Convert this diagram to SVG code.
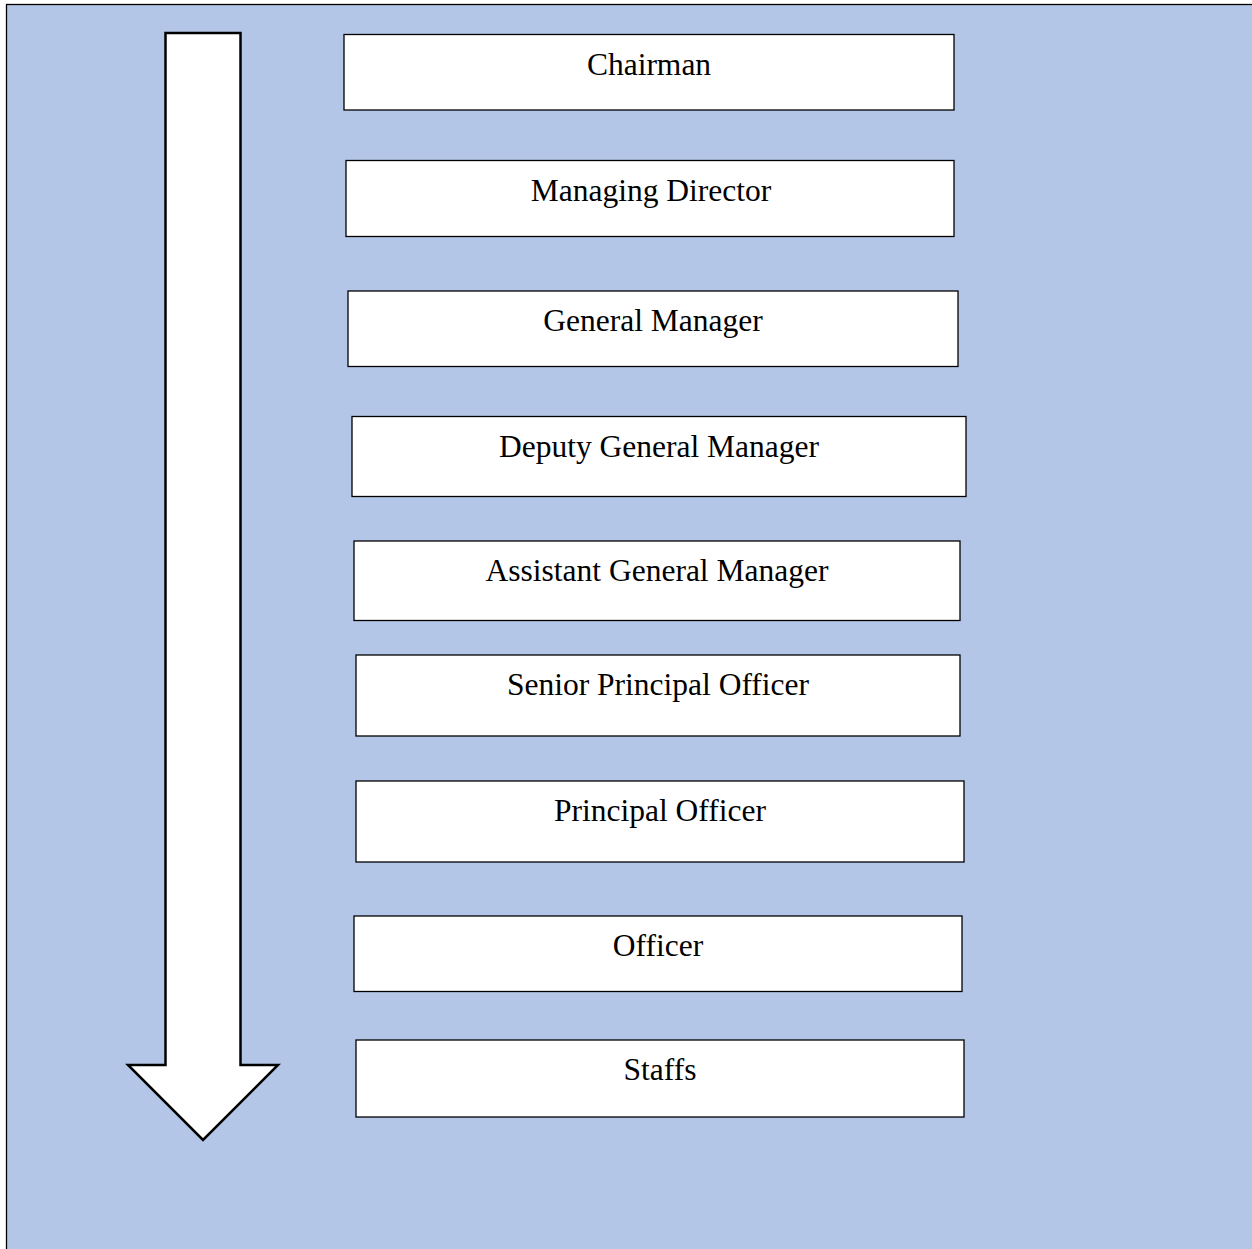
<svg xmlns="http://www.w3.org/2000/svg" width="1252" height="1249" viewBox="0 0 1252 1249">
<style>
.box{fill:#ffffff;stroke:#000000;stroke-width:1.3}
.lbl{font-family:"Liberation Serif","Times New Roman",serif;font-size:31.5px;fill:#000000;text-anchor:middle}
</style>
<rect x="0" y="0" width="1252" height="1249" fill="#ffffff"/>
<rect x="6.5" y="4.5" width="1250" height="1250" fill="#B4C6E7" stroke="#000000" stroke-width="1.3"/>
<g id="connectors">
<path id="arrow" d="M165.5,33 L240.5,33 L240.5,1065 L278,1065 L203,1140 L128,1065 L165.5,1065 Z" fill="#ffffff" stroke="#000000" stroke-width="2.5" stroke-linejoin="miter"/>
</g>
<g id="n1"><rect class="box" x="344" y="34.5" width="610" height="75.5"/><text class="lbl" x="649" y="75">Chairman</text></g>
<g id="n2"><rect class="box" x="346" y="160.5" width="608" height="76"/><text class="lbl" x="651" y="201">Managing Director</text></g>
<g id="n3"><rect class="box" x="348" y="291" width="610" height="75.5"/><text class="lbl" x="653" y="331">General Manager</text></g>
<g id="n4"><rect class="box" x="352" y="416.5" width="614" height="80"/><text class="lbl" x="659" y="457">Deputy General Manager</text></g>
<g id="n5"><rect class="box" x="354" y="541" width="606" height="79.5"/><text class="lbl" x="657" y="581">Assistant General Manager</text></g>
<g id="n6"><rect class="box" x="356" y="655" width="604" height="81"/><text class="lbl" x="658" y="695">Senior Principal Officer</text></g>
<g id="n7"><rect class="box" x="356" y="781" width="608" height="81"/><text class="lbl" x="660" y="821">Principal Officer</text></g>
<g id="n8"><rect class="box" x="354" y="916" width="608" height="75.5"/><text class="lbl" x="658" y="956">Officer</text></g>
<g id="n9"><rect class="box" x="356" y="1040" width="608" height="77"/><text class="lbl" x="660" y="1080">Staffs</text></g>
</svg>
